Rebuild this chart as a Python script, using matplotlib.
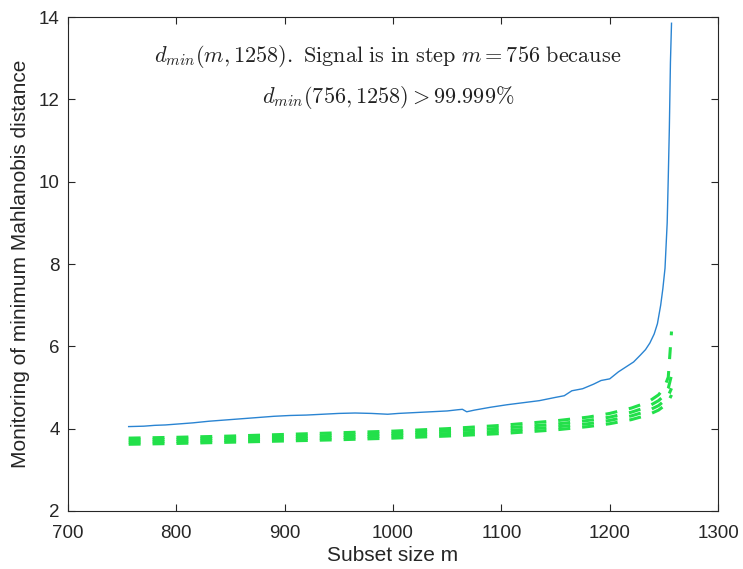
import matplotlib
matplotlib.use("Agg")
import matplotlib.pyplot as plt

# Monitoring of minimum Mahalanobis distance (blue) and envelopes (green)
m_obs = [756, 770, 780, 790, 800, 815, 830, 845, 860, 875, 890, 905, 920, 935,
         950, 965, 980, 995, 1005, 1020, 1035, 1050, 1060, 1064, 1068, 1075,
         1090, 1105, 1120, 1135, 1150, 1158, 1165, 1175, 1185, 1192, 1200,
         1208, 1215, 1222, 1228, 1233, 1237, 1241, 1244, 1247, 1249, 1251,
         1253, 1254, 1255, 1256, 1257]
dmin_obs = [4.05, 4.06, 4.08, 4.09, 4.11, 4.14, 4.18, 4.21, 4.24, 4.27, 4.30,
            4.32, 4.33, 4.35, 4.37, 4.38, 4.37, 4.35, 4.37, 4.39, 4.41, 4.43,
            4.46, 4.47, 4.41, 4.45, 4.52, 4.58, 4.63, 4.68, 4.76, 4.80, 4.92,
            4.97, 5.08, 5.17, 5.21, 5.38, 5.50, 5.62, 5.78, 5.92, 6.08, 6.30,
            6.55, 7.00, 7.40, 7.90, 9.00, 10.1, 11.3, 12.9, 13.85]

m_env = [756, 800, 850, 900, 950, 1000, 1050, 1100, 1150, 1180, 1200, 1220,
         1235, 1245, 1250, 1254, 1257]
env_99 = [3.62, 3.64, 3.67, 3.70, 3.73, 3.77, 3.82, 3.88, 3.97, 4.05, 4.12,
          4.22, 4.33, 4.45, 4.55, 4.66, 4.82]
env_999 = [3.67, 3.69, 3.72, 3.75, 3.78, 3.83, 3.88, 3.94, 4.04, 4.12, 4.20,
           4.31, 4.43, 4.56, 4.67, 4.80, 4.98]
env_9999 = [3.72, 3.74, 3.77, 3.80, 3.84, 3.88, 3.94, 4.01, 4.11, 4.20, 4.28,
            4.40, 4.53, 4.68, 4.80, 4.98, 5.30]
env_99999 = [3.77, 3.79, 3.82, 3.86, 3.90, 3.94, 4.00, 4.08, 4.19, 4.28, 4.37,
             4.50, 4.64, 4.82, 4.98, 5.25, 6.36]

xticks = [700, 800, 900, 1000, 1100, 1200, 1300]
yticks = [2, 4, 6, 8, 10, 12, 14]

plt.rcParams['font.family'] = ['Liberation Sans', 'DejaVu Sans']
plt.rcParams['mathtext.fontset'] = 'cm'
plt.rcParams['lines.scale_dashes'] = False

fig = plt.figure(figsize=(7.43, 5.69), dpi=100)
ax = fig.add_axes([0.0915, 0.102, 0.875, 0.868])

ax.plot(m_obs, dmin_obs, color='#2a84d2', lw=1.0, zorder=3)
for env in (env_99, env_999, env_9999, env_99999):
    ax.plot(m_env, env, color='#22e04a', lw=2.2, dashes=(8.6, 8.6),
            solid_capstyle='butt', dash_capstyle='butt', zorder=2)

ax.set_xlim(700, 1300)
ax.set_ylim(2, 14)
ax.set_xticks(xticks)
ax.set_yticks(yticks)
ax.tick_params(direction='in', top=True, right=True, length=5, width=0.8,
               labelsize=13.5, colors='#262626')
ax.tick_params(axis='x', pad=10)
ax.tick_params(axis='y', pad=6)
for s in ax.spines.values():
    s.set_color('#262626')
    s.set_linewidth(0.8)

ax.set_xlabel('Subset size m', fontsize=15, color='#262626', labelpad=3)
ax.set_ylabel('Monitoring of minimum Mahlanobis distance', fontsize=15,
              color='#262626', labelpad=6)

ax.text(0.492, 0.921,
        r'$d_{min}(m,1258)\mathrm{.\ Signal\ is\ in\ step\ }m=756\mathrm{\ because}$',
        transform=ax.transAxes, ha='center', va='center', fontsize=16,
        color='#222222')
ax.text(0.492, 0.837, r'$d_{min}(756,1258)>99.999\%$',
        transform=ax.transAxes, ha='center', va='center', fontsize=16,
        color='#222222')

fig.savefig('out.png', dpi=100, facecolor='white')
